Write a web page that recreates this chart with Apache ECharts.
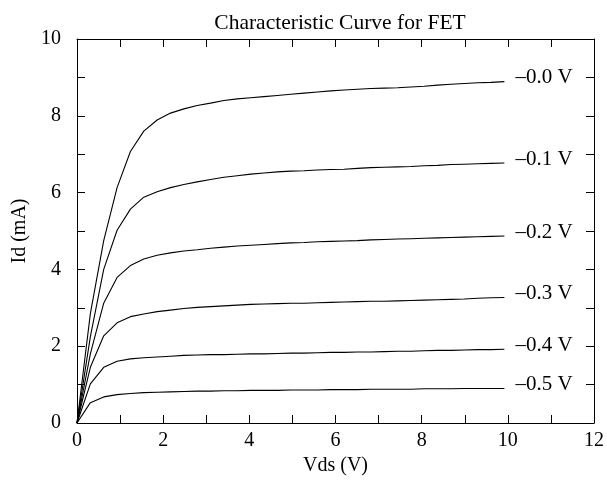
<!DOCTYPE html>
<html>
<head>
<meta charset="utf-8">
<title>Characteristic Curve for FET</title>
<script src="https://cdn.jsdelivr.net/npm/echarts@6/dist/echarts.min.js"></script>
<style>
  html, body { margin: 0; padding: 0; background: #fff; }
  #chart { width: 607px; height: 481px; }
</style>
</head>
<body>
<div id="chart"></div>
<script>
// Drain-source voltage samples (V)
const vds = [0, 0.31, 0.62, 0.93, 1.24, 1.55, 1.86, 2.17, 2.48, 2.79, 3.10,
             3.41, 3.72, 4.03, 4.34, 4.65, 4.96, 5.27, 5.58, 5.89, 6.20,
             6.51, 6.82, 7.13, 7.44, 7.75, 8.06, 8.37, 8.68, 8.99, 9.30,
             9.61, 9.92];

// Drain current (mA) for each gate voltage
const id_00 = [0, 2.85, 4.75, 6.13, 7.07, 7.60, 7.89, 8.07, 8.18, 8.27, 8.33,
               8.40, 8.44, 8.47, 8.50, 8.53, 8.56, 8.59, 8.62, 8.65, 8.67,
               8.69, 8.71, 8.72, 8.73, 8.75, 8.77, 8.80, 8.82, 8.84, 8.86,
               8.87, 8.89];
const id_01 = [0, 2.25, 4.00, 5.02, 5.57, 5.88, 6.02, 6.13, 6.21, 6.28, 6.34,
               6.40, 6.44, 6.48, 6.51, 6.54, 6.56, 6.57, 6.59, 6.60, 6.61,
               6.63, 6.65, 6.66, 6.67, 6.68, 6.70, 6.71, 6.73, 6.74, 6.75,
               6.76, 6.77];
const id_02 = [0, 1.80, 3.12, 3.79, 4.10, 4.27, 4.37, 4.43, 4.48, 4.51, 4.55,
               4.58, 4.61, 4.63, 4.65, 4.67, 4.69, 4.70, 4.72, 4.73, 4.74,
               4.75, 4.77, 4.78, 4.79, 4.80, 4.81, 4.82, 4.83, 4.84, 4.85,
               4.86, 4.87];
const id_03 = [0, 1.45, 2.27, 2.61, 2.77, 2.84, 2.90, 2.94, 2.98, 3.01, 3.03,
               3.05, 3.07, 3.09, 3.10, 3.11, 3.12, 3.12, 3.13, 3.14, 3.15,
               3.16, 3.17, 3.17, 3.18, 3.19, 3.20, 3.21, 3.22, 3.23, 3.25,
               3.26, 3.27];
const id_04 = [0, 1.02, 1.45, 1.61, 1.67, 1.70, 1.72, 1.74, 1.76, 1.77, 1.78,
               1.78, 1.79, 1.80, 1.80, 1.81, 1.82, 1.82, 1.83, 1.84, 1.84,
               1.85, 1.85, 1.86, 1.87, 1.87, 1.88, 1.89, 1.89, 1.90, 1.91,
               1.91, 1.92];
const id_05 = [0, 0.53, 0.68, 0.74, 0.77, 0.79, 0.80, 0.81, 0.82, 0.83, 0.83,
               0.84, 0.84, 0.85, 0.85, 0.85, 0.86, 0.86, 0.86, 0.87, 0.87,
               0.87, 0.88, 0.88, 0.88, 0.88, 0.89, 0.89, 0.89, 0.90, 0.90,
               0.90, 0.90];

const curveNames = ['\u20130.0 V', '\u20130.1 V', '\u20130.2 V', '\u20130.3 V', '\u20130.4 V', '\u20130.5 V'];
const curveData = [id_00, id_01, id_02, id_03, id_04, id_05];

const FONT = '"Liberation Serif", "DejaVu Serif", serif';
const INK = '#000';

const chart = echarts.init(document.getElementById('chart'), null, { renderer: 'canvas' });

const tickIn = { show: true, inside: true, length: 8, lineStyle: { color: INK, width: 1 } };
const evenOnly = v => (Math.round(v) % 2 === 0 ? String(Math.round(v)) : '');

const series = curveData.map((ys, i) => ({
  name: curveNames[i],
  type: 'line',
  xAxisIndex: 0,
  yAxisIndex: 0,
  data: vds.map((x, k) => [x, ys[k]]),
  showSymbol: false,
  symbol: 'none',
  silent: true,
  animation: false,
  lineStyle: { color: INK, width: 1.1 },
  endLabel: {
    show: true,
    formatter: curveNames[i],
    color: INK,
    fontFamily: FONT,
    fontSize: 21,
    distance: 11,
    offset: [0, -4]
  }
}));

chart.setOption({
  animation: false,
  backgroundColor: '#fff',
  title: {
    text: 'Characteristic Curve for FET',
    left: 335,
    textAlign: 'center',
    top: 7,
    textStyle: { fontFamily: FONT, fontSize: 21.5, fontWeight: 'normal', color: INK }
  },
  grid: { left: 77, right: 13, top: 39, bottom: 54, containLabel: false },
  xAxis: [
    {
      type: 'value', min: 0, max: 12, interval: 1,
      name: 'Vds (V)', nameLocation: 'middle', nameGap: 33,
      nameTextStyle: { fontFamily: FONT, fontSize: 20, color: INK },
      axisLine: { show: true, onZero: false, lineStyle: { color: INK, width: 1 } },
      axisTick: tickIn,
      axisLabel: { formatter: evenOnly, fontFamily: FONT, fontSize: 20, color: INK, margin: 8 },
      splitLine: { show: false }
    },
    {
      type: 'value', min: 0, max: 12, interval: 1, position: 'top',
      axisLine: { show: true, onZero: false, lineStyle: { color: INK, width: 1 } },
      axisTick: tickIn,
      axisLabel: { show: false },
      splitLine: { show: false }
    }
  ],
  yAxis: [
    {
      type: 'value', min: 0, max: 10, interval: 1,
      name: 'Id (mA)', nameLocation: 'middle', nameGap: 45,
      nameTextStyle: { fontFamily: FONT, fontSize: 20, color: INK },
      axisLine: { show: true, onZero: false, lineStyle: { color: INK, width: 1 } },
      axisTick: tickIn,
      axisLabel: { formatter: evenOnly, fontFamily: FONT, fontSize: 20, color: INK, margin: 16 },
      splitLine: { show: false }
    },
    {
      type: 'value', min: 0, max: 10, interval: 1, position: 'right',
      axisLine: { show: true, onZero: false, lineStyle: { color: INK, width: 1 } },
      axisTick: tickIn,
      axisLabel: { show: false },
      splitLine: { show: false }
    }
  ],
  series: series
});
</script>
</body>
</html>
